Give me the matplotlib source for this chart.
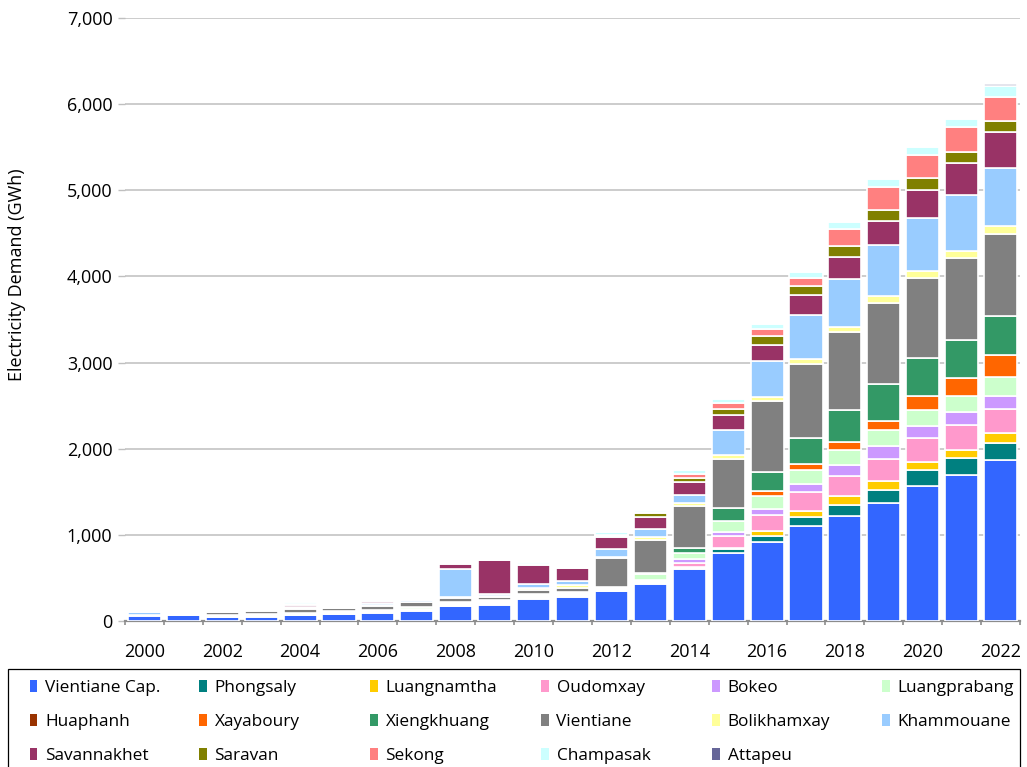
import numpy as np
import matplotlib
matplotlib.use("Agg")
import matplotlib.pyplot as plt
from matplotlib.patches import Patch, Rectangle
from matplotlib.ticker import FuncFormatter, FixedLocator

plt.rcParams['font.family'] = ['Open Sans', 'DejaVu Sans']

# Electricity demand by province (GWh), 2000-2022
years = list(range(2000, 2023))

vientiane_cap = [60, 68, 52, 52, 66, 77, 93, 112, 170, 190, 252, 283, 344, 433, 604, 786, 917, 1107, 1215, 1368, 1567, 1692, 1874]
phongsaly = [5, 0, 0, 6, 8, 8, 8, 10, 8, 10, 10, 10, 8, 10, 15, 45, 74, 95, 137, 154, 187, 203, 187]
luangnamtha = [0, 0, 0, 0, 0, 0, 0, 5, 5, 5, 5, 6, 5, 8, 12, 20, 50, 79, 95, 107, 95, 91, 116]
oudomxay = [5, 0, 8, 8, 8, 10, 10, 12, 10, 12, 12, 12, 8, 12, 42, 135, 190, 212, 236, 257, 270, 286, 282]
bokeo = [0, 0, 0, 0, 0, 0, 0, 5, 5, 5, 6, 7, 5, 8, 43, 45, 69, 95, 133, 146, 145, 149, 149]
luangprabang = [5, 0, 10, 10, 10, 12, 12, 15, 12, 15, 16, 12, 17, 79, 73, 125, 155, 170, 170, 190, 182, 195, 220]
huaphanh = [0, 0, 0, 0, 0, 0, 0, 0, 0, 0, 0, 0, 0, 0, 0, 0, 0, 0, 0, 0, 0, 0, 0]
xayaboury = [0, 0, 0, 0, 0, 0, 0, 0, 0, 0, 0, 0, 0, 0, 0, 0, 50, 62, 91, 104, 162, 207, 257]
xiengkhuang = [0, 0, 0, 0, 5, 5, 6, 6, 5, 6, 7, 5, 8, 12, 62, 152, 225, 307, 373, 431, 443, 444, 452]
vientiane = [0, 0, 34, 36, 42, 43, 45, 56, 52, 36, 52, 52, 336, 382, 480, 577, 824, 854, 900, 929, 929, 945, 953]
bolikhamxay = [0, 0, 0, 10, 10, 0, 12, 5, 15, 15, 18, 31, 15, 27, 35, 45, 47, 58, 62, 83, 79, 87, 95]
khammouane = [30, 0, 0, 15, 15, 10, 20, 22, 322, 25, 55, 42, 90, 93, 101, 290, 418, 510, 556, 601, 614, 643, 668]
savannakhet = [0, 0, 0, 15, 20, 10, 22, 0, 58, 393, 217, 155, 139, 143, 143, 168, 189, 232, 261, 278, 327, 369, 419]
saravan = [0, 0, 0, 10, 8, 0, 0, 0, 8, 0, 8, 6, 12, 47, 54, 75, 101, 104, 120, 120, 141, 137, 132]
sekong = [0, 0, 0, 8, 8, 0, 0, 0, 5, 0, 6, 5, 10, 12, 38, 62, 81, 99, 207, 274, 265, 282, 282]
champasak = [0, 0, 0, 16, 17, 0, 0, 0, 14, 8, 25, 16, 36, 27, 55, 47, 54, 71, 71, 87, 100, 103, 125]
attapeu = [0, 0, 0, 0, 0, 0, 0, 0, 0, 0, 0, 0, 0, 0, 0, 0, 0, 0, 0, 0, 0, 0, 25]

names = ["Vientiane Cap.", "Phongsaly", "Luangnamtha", "Oudomxay", "Bokeo", "Luangprabang",
         "Huaphanh", "Xayaboury", "Xiengkhuang", "Vientiane", "Bolikhamxay", "Khammouane",
         "Savannakhet", "Saravan", "Sekong", "Champasak", "Attapeu"]
series = [vientiane_cap, phongsaly, luangnamtha, oudomxay, bokeo, luangprabang,
          huaphanh, xayaboury, xiengkhuang, vientiane, bolikhamxay, khammouane,
          savannakhet, saravan, sekong, champasak, attapeu]
colors = ["#3366FF", "#008080", "#FFCC00", "#FF99CC", "#CC99FF", "#CCFFCC",
          "#993300", "#FF6600", "#339966", "#808080", "#FFFF99", "#99CCFF",
          "#993366", "#808000", "#FF8080", "#CCFFFF", "#666699"]

W, H = 1027, 767
fig = plt.figure(figsize=(W / 100, H / 100), dpi=100)
ax = fig.add_axes([125 / W, 1 - 621 / H, 895 / W, 603 / H])

x = np.arange(len(years))
bottom = np.zeros(len(years))
for vals, col in zip(series, colors):
    vals = np.asarray(vals, dtype=float)
    ax.bar(x, vals, width=0.85, bottom=bottom, color=col,
           edgecolor="white", linewidth=1.2, zorder=3)
    bottom += vals

ax.set_xlim(-0.5, len(years) - 0.5)
ax.set_ylim(0, 7000)
ax.yaxis.set_major_locator(FixedLocator(np.arange(0, 7001, 1000)))
ax.yaxis.set_major_formatter(FuncFormatter(lambda v, p: f"{int(v):,}"))
ax.yaxis.grid(True, color="#C8C8C8", linewidth=1.3, zorder=0)
ax.set_axisbelow(True)

ax.set_xticks(x[::2])
ax.set_xticklabels([str(y) for y in years[::2]])
ax.xaxis.set_minor_locator(FixedLocator(np.arange(-0.5, len(years), 1.0)))
ax.tick_params(axis="x", which="major", length=0, pad=15.5, labelsize=13, colors="black")
ax.tick_params(axis="x", which="minor", length=3, width=1.2, color="#8C8C8C", direction="out")
ax.tick_params(axis="y", which="major", length=5, width=1.0, color="#BFBFBF",
               pad=4, labelsize=13)

for side in ("top", "right", "left"):
    ax.spines[side].set_visible(False)
ax.spines["bottom"].set_color("#8C8C8C")
ax.spines["bottom"].set_linewidth(1.6)

ax.set_ylabel("Electricity Demand (GWh)", fontsize=13)
ax.yaxis.set_label_coords(-0.1106, 0.574)

# Legend: six evenly spaced columns inside a frame below the chart
col_x = [29.6, 199, 370, 541, 712, 882]
ncols = 6
for j, xpx in enumerate(col_x):
    idx = [i for i in (j, j + ncols, j + 2 * ncols) if i < len(names)]
    handles = [Patch(facecolor=colors[i], edgecolor="none") for i in idx]
    fig.legend(handles, [names[i] for i in idx], loc="upper left",
               bbox_to_anchor=(xpx / W, 1 - 680 / H), frameon=False,
               borderpad=0, borderaxespad=0, handlelength=0.45, handleheight=0.7,
               handletextpad=0.45, labelspacing=1.04, prop={"size": 12.4})

fig.add_artist(Rectangle((8 / W, -0.05), (1020 - 8) / W, 0.05 + 1 - 669 / H,
                         transform=fig.transFigure, fill=False,
                         edgecolor="black", linewidth=0.9, clip_on=False))

fig.savefig("out.png", dpi=100)
